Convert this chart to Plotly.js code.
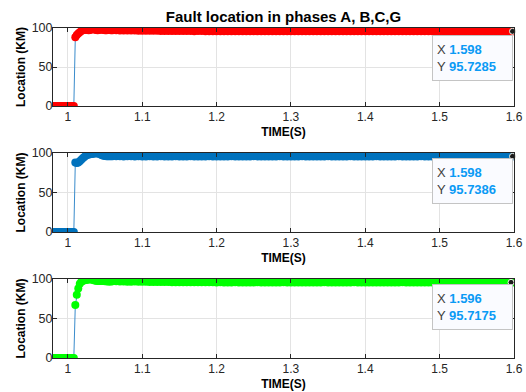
<!DOCTYPE html>
<html>
<head>
<meta charset="utf-8">
<script src="https://cdn.plot.ly/plotly-3.0.1.min.js"></script>
<style>html,body{margin:0;padding:0;background:#fff;}#chart{width:526px;height:392px;}</style>
</head>
<body>
<div id="chart"></div>
<script>
// ---- data ----
const time = [0.980,0.982,0.984,0.986,0.988,0.990,0.992,0.994,0.996,0.998,1.000,1.002,1.004,1.006,1.008,
  1.010,1.012,1.014,1.016,1.018,1.020,1.022,1.024,1.026,1.028,1.030,1.032,1.034,1.036,1.038,1.040,1.042,1.044,1.046,1.048,1.050,1.052,1.054,1.056,1.058,1.060,
  1.065,1.070,1.075,1.080,1.085,1.090,1.095,1.100,1.105,1.110,
  1.115,1.120,1.125,1.130,1.135,1.140,1.145,1.150,1.155,1.160,
  1.165,1.170,1.175,1.180,1.185,1.190,1.195,1.200,1.205,1.210,
  1.215,1.220,1.225,1.230,1.235,1.240,1.245,1.250,1.255,1.260,
  1.265,1.270,1.275,1.280,1.285,1.290,1.295,1.300,1.305,1.310,
  1.315,1.320,1.325,1.330,1.335,1.340,1.345,1.350,1.355,1.360,
  1.365,1.370,1.375,1.380,1.385,1.390,1.395,1.400,1.405,1.410,
  1.415,1.420,1.425,1.430,1.435,1.440,1.445,1.450,1.455,1.460,
  1.465,1.470,1.475,1.480,1.485,1.490,1.495,1.500,1.505,1.510,
  1.515,1.520,1.525,1.530,1.535,1.540,1.545,1.550,1.555,1.560,
  1.565,1.570,1.575,1.580,1.585,1.590,1.595,1.598];

const phaseA = [0,0,0,0,0,0,0,0,0,0,0,0,0,0,0,
  88,91,93,94.5,96,97,97.5,98,97.5,97,97.5,98.5,98.5,98,97.5,97,97.5,98,98,97.5,97,97,97.5,97.5,97,97,
  97.0,96.9,96.8,96.7,96.8,96.8,96.6,96.5,96.5,96.4,
  96.4,96.5,96.3,96.2,96.2,96.1,96.2,96.2,96.1,96.0,
  96.0,95.9,96.0,96.0,95.9,95.9,95.8,95.8,95.9,95.8,
  95.8,95.8,95.7,95.8,95.8,95.7,95.7,95.8,95.7,95.7,
  95.8,95.7,95.7,95.7,95.8,95.7,95.7,95.8,95.7,95.7,
  95.7,95.7,95.8,95.7,95.7,95.7,95.7,95.8,95.7,95.7,
  95.7,95.8,95.7,95.7,95.7,95.7,95.7,95.8,95.7,95.7,
  95.7,95.7,95.7,95.8,95.7,95.7,95.7,95.7,95.7,95.8,
  95.7,95.7,95.7,95.7,95.7,95.8,95.7,95.7,95.7,95.7,
  95.7,95.8,95.7,95.7,95.7,95.7,95.7,95.7,95.8,95.7,
  95.7,95.7,95.7,95.7,95.7,95.7,95.7,95.7285];

const phaseB = [0,0,0,0,0,0,0,0,0,0,0,0,0,0,0,
  88,87.5,88,89.5,91.5,93.5,95,96.5,97.5,98,98.5,98.8,99.2,99.5,99.6,99.5,99,98,97,96.5,96.2,96,95.9,95.8,95.8,95.8,
  95.8,95.8,95.7,95.8,95.8,95.7,95.8,95.7,95.7,95.8,
  95.7,95.7,95.8,95.7,95.7,95.7,95.8,95.7,95.7,95.7,
  95.8,95.7,95.7,95.7,95.7,95.8,95.7,95.7,95.7,95.7,
  95.7,95.8,95.7,95.7,95.7,95.7,95.7,95.8,95.7,95.7,
  95.7,95.7,95.7,95.7,95.8,95.7,95.7,95.7,95.7,95.7,
  95.8,95.7,95.7,95.7,95.7,95.7,95.7,95.8,95.7,95.7,
  95.7,95.7,95.7,95.8,95.7,95.7,95.7,95.7,95.7,95.7,
  95.8,95.7,95.7,95.7,95.7,95.7,95.8,95.7,95.7,95.7,
  95.7,95.7,95.8,95.7,95.7,95.7,95.7,95.7,95.8,95.7,
  95.7,95.7,95.7,95.7,95.8,95.7,95.7,95.7,95.7,95.7,
  95.8,95.7,95.7,95.7,95.7,95.7,95.7,95.7386];

const phaseC = [0,0,0,0,0,0,0,0,0,0,0,0,0,0,0,
  67,80,88,94,96.5,97.5,98.3,98.8,99.2,99.5,99.6,99.3,98.8,98.2,97.8,97.6,97.5,97.5,97.6,97.5,97.3,97,96.8,96.7,96.9,97.1,
  97.0,96.9,96.8,96.6,96.6,96.7,96.6,96.4,96.4,96.3,
  96.3,96.2,96.2,96.1,96.1,96.0,96.0,96.0,95.9,95.9,
  95.9,95.9,95.8,95.8,95.8,95.8,95.8,95.7,95.8,95.7,
  95.7,95.7,95.8,95.7,95.7,95.7,95.7,95.7,95.8,95.7,
  95.7,95.7,95.7,95.7,95.7,95.8,95.7,95.7,95.7,95.7,
  95.7,95.7,95.7,95.7,95.7,95.7,95.8,95.7,95.7,95.7,
  95.7,95.7,95.7,95.7,95.8,95.7,95.7,95.7,95.7,95.7,
  95.7,95.7,95.7,95.7,95.7,95.7,95.7,95.8,95.7,95.7,
  95.7,95.7,95.7,95.7,95.7,95.7,95.7,95.7,95.7,95.8,
  95.7,95.7,95.7,95.7,95.7,95.7,95.7,95.7,95.7,95.7,
  95.7,95.7,95.7,95.7,95.7,95.72,95.72,95.72];

const tipX = [1.598, 1.598, 1.596];
const tipY = [95.7285, 95.7386, 95.7175];
const tipXText = ['1.598', '1.598', '1.596'];
const tipYText = ['95.7285', '95.7386', '95.7175'];

const tickVals = [1, 1.1, 1.2, 1.3, 1.4, 1.5, 1.6];
const tickText = ['1', '1.1', '1.2', '1.3', '1.4', '1.5', '1.6'];
const yTickVals = [0, 50, 100];

// ---- chart ----
const series = [phaseA, phaseB, phaseC];
const colors = ['#ff0000', '#0072bd', '#00ff00'];
const traces = [];
const annotations = [];
const domains = [[0.7636, 1], [0.3818, 0.6212], [0, 0.2394]];
const tipTop = [0.91, 0.937, 0.937];
const FAM = 'Liberation Sans, Arial, sans-serif';

series.forEach((s, i) => {
  const ax = i === 0 ? '' : String(i + 1);
  traces.push({
    x: time, y: s, xaxis: 'x' + ax, yaxis: 'y' + ax,
    type: 'scatter', mode: 'lines+markers',
    line: {color: '#3a8ccc', width: 1},
    marker: {color: colors[i], size: 8},
    hoverinfo: 'skip', showlegend: false
  });
  traces.push({
    x: [tipX[i]], y: [tipY[i]], xaxis: 'x' + ax, yaxis: 'y' + ax,
    type: 'scatter', mode: 'markers',
    marker: {color: '#1a1a1a', size: 6, line: {color: '#f4f4e8', width: 1}},
    hoverinfo: 'skip', showlegend: false, cliponaxis: false
  });
  annotations.push({
    xref: 'x' + ax, yref: 'y' + ax + ' domain',
    x: 1.4892, y: tipTop[i], xanchor: 'left', yanchor: 'top',
    showarrow: false, align: 'left', valign: 'middle',
    width: 71, height: 36, borderpad: 4, borderwidth: 1,
    bordercolor: '#c4c4c4', bgcolor: '#fafbff',
    font: {family: FAM, size: 13, color: '#404040'},
    text: 'X <b><span style="color:#0a9af5">' + tipXText[i] + '</span></b><br>Y <b><span style="color:#0a9af5">' + tipYText[i] + '</span></b>'
  });
});

const layout = {
  width: 526, height: 392,
  margin: {l: 53, r: 12, t: 28, b: 34},
  paper_bgcolor: '#ffffff', plot_bgcolor: '#ffffff',
  font: {family: FAM, size: 12, color: '#262626'},
  title: {text: '<b>Fault location in phases A, B,C,G</b>', x: 0.539, xanchor: 'center', y: 0.958, yanchor: 'middle',
          font: {family: FAM, size: 15, color: '#000000'}},
  annotations: annotations
};

for (let i = 0; i < 3; i++) {
  const ax = i === 0 ? '' : String(i + 1);
  layout['xaxis' + ax] = {
    domain: [0, 1], anchor: 'y' + ax, range: [0.98, 1.6],
    tickvals: tickVals, ticktext: tickText,
    ticks: 'inside', ticklen: 4, tickcolor: '#262626',
    showline: true, linecolor: '#262626', linewidth: 1, mirror: 'ticks',
    showgrid: true, gridcolor: '#e3e3e3', gridwidth: 1, zeroline: false,
    tickfont: {family: FAM, size: 12, color: '#262626'},
    title: {text: '<b>TIME(S)</b>', standoff: 4, font: {family: FAM, size: 12, color: '#000000'}}
  };
  layout['yaxis' + ax] = {
    domain: domains[i], anchor: 'x' + ax, range: [0, 100],
    tickvals: yTickVals,
    ticks: 'inside', ticklen: 4, tickcolor: '#262626',
    ticklabelstandoff: -3,
    showline: true, linecolor: '#262626', linewidth: 1, mirror: 'ticks',
    showgrid: true, gridcolor: '#e3e3e3', gridwidth: 1, zeroline: false,
    tickfont: {family: FAM, size: 12.5, color: '#262626'},
    title: {text: '<b>Location (KM)</b>', standoff: 3, font: {family: FAM, size: 12, color: '#000000'}}
  };
}

Plotly.newPlot('chart', traces, layout, {displayModeBar: false, staticPlot: true});
</script>
</body>
</html>
